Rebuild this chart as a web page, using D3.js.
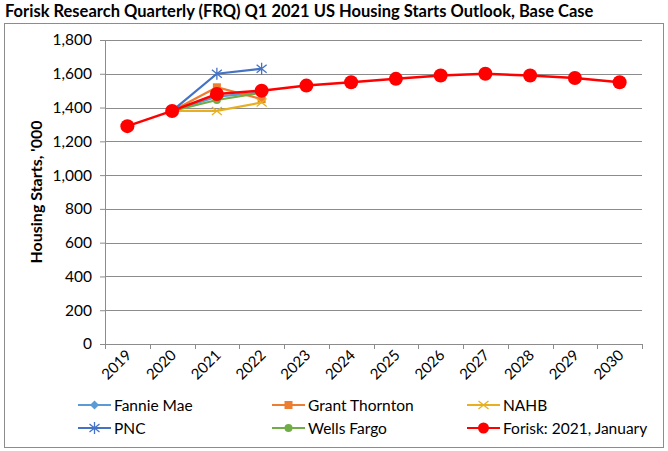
<!DOCTYPE html>
<html>
<head>
<meta charset="utf-8">
<script src="https://cdn.jsdelivr.net/npm/d3@7"></script>
<style>
  body { margin: 0; background: #fff; }
  svg text { font-family: Lato, "Open Sans", sans-serif; }
</style>
</head>
<body>
<div id="chart"></div>
<script>
// categories and values
const years = ['2019', '2020', '2021', '2022', '2023', '2024', '2025', '2026', '2027', '2028', '2029', '2030'];
const yTicks = [0, 200, 400, 600, 800, 1000, 1200, 1400, 1600, 1800];

const fannieMae = [null, 1380, 1465, 1490];
const grantThornton = [null, 1380, 1520, 1450];
const nahb = [null, 1380, 1380, 1430];
const pnc = [null, 1380, 1600, 1630];
const wellsFargo = [null, 1380, 1445, 1488];
const forisk = [1290, 1380, 1480, 1500, 1530, 1550, 1570, 1590, 1600, 1590, 1575, 1550];

const series = [
    { name: 'Fannie Mae', values: fannieMae, color: '#5B9BD5', marker: 'diamond' },
    { name: 'Grant Thornton', values: grantThornton, color: '#ED7D31', marker: 'square' },
    { name: 'NAHB', values: nahb, color: '#E8B020', marker: 'x' },
    { name: 'PNC', values: pnc, color: '#4472C4', marker: 'star' },
    { name: 'Wells Fargo', values: wellsFargo, color: '#70AD47', marker: 'circle' },
    { name: 'Forisk: 2021, January', values: forisk, color: '#FF0000', marker: 'big' }
];

const W = 668, H = 451;
const margin = { top: 40, right: 26, bottom: 107, left: 105 };
const width = W - margin.left - margin.right,
      height = H - margin.top - margin.bottom;

const svg = d3.select('#chart').append('svg')
    .attr('width', W)
    .attr('height', H);

// chart frame
svg.append('rect')
    .attr('x', 4.5).attr('y', 23.5)
    .attr('width', 659).attr('height', 424)
    .attr('fill', 'none')
    .attr('stroke', '#8c8c8c');

svg.append('text')
    .attr('x', 5).attr('y', 17)
    .style('font-weight', 'bold')
    .style('font-size', '16.5px')
    .text('Forisk Research Quarterly (FRQ) Q1 2021 US Housing Starts Outlook, Base Case');

const g = svg.append('g')
    .attr('transform', `translate(${margin.left},${margin.top})`);

const x = d3.scaleBand().domain(years).range([0, width]);
const y = d3.scaleLinear().domain([0, 1800]).range([height, 0]);

// gridlines
g.append('g')
    .selectAll('line')
    .data(yTicks.filter(d => d > 0))
    .enter().append('line')
    .attr('x1', 0).attr('x2', width)
    .attr('y1', d => Math.round(y(d)) + 0.5).attr('y2', d => Math.round(y(d)) + 0.5)
    .attr('stroke', '#8c8c8c');

// y axis
const yAxis = g.append('g')
    .call(d3.axisLeft(y).tickValues(yTicks).tickSize(5).tickPadding(8).tickFormat(d3.format(',')));
yAxis.selectAll('text').style('font-size', '15.5px').attr('fill', '#000');
yAxis.selectAll('line, path').attr('stroke', '#8c8c8c');

// x axis
const xAxis = g.append('g')
    .attr('transform', `translate(0,${height})`)
    .call(d3.axisBottom(x).tickSize(0).tickPadding(0));
xAxis.select('.domain').attr('stroke', '#8c8c8c');
xAxis.selectAll('text')
    .style('font-size', '15px')
    .attr('fill', '#000')
    .attr('text-anchor', 'end')
    .attr('dy', 0)
    .attr('transform', 'translate(5,12) rotate(-45)');
// tick marks on band boundaries
g.append('g')
    .selectAll('line')
    .data(years.concat(['end']))
    .enter().append('line')
    .attr('x1', (d, i) => Math.round(i * x.step()) + 0.5)
    .attr('x2', (d, i) => Math.round(i * x.step()) + 0.5)
    .attr('y1', height).attr('y2', height + 5)
    .attr('stroke', '#8c8c8c');

svg.append('text')
    .attr('transform', `translate(42,${margin.top + height / 2}) rotate(-90)`)
    .attr('text-anchor', 'middle')
    .style('font-weight', 'bold')
    .style('font-size', '16px')
    .text("Housing Starts, '000");

function drawMarker(sel, type, color) {
    if (type === 'diamond') {
        sel.append('path').attr('d', 'M0,-4.5L4.5,0L0,4.5L-4.5,0Z').attr('fill', color);
    } else if (type === 'square') {
        sel.append('rect').attr('x', -4).attr('y', -4).attr('width', 8).attr('height', 8).attr('fill', color);
    } else if (type === 'x') {
        sel.append('path').attr('d', 'M-5,-4L5,4M-5,4L5,-4').attr('stroke', color).attr('stroke-width', 1.3).attr('fill', 'none');
    } else if (type === 'star') {
        sel.append('path').attr('d', 'M-5,-4L5,4M-5,4L5,-4M0,-6L0,6').attr('stroke', color).attr('stroke-width', 1.3).attr('fill', 'none');
    } else if (type === 'circle') {
        sel.append('circle').attr('r', 4).attr('fill', color);
    } else {
        sel.append('circle').attr('r', 7).attr('fill', color);
    }
}

const line = d3.line()
    .defined(d => d != null)
    .x((d, i) => x(years[i]) + x.bandwidth() / 2)
    .y(d => y(d));

series.forEach(s => {
    const pts = s.values.map((v, i) => ({ v, i })).filter(p => p.v != null);
    const lg = g.append('g');
    lg.append('path')
        .datum(s.values)
        .attr('d', line)
        .attr('fill', 'none')
        .attr('stroke', s.color)
        .attr('stroke-width', s.marker === 'big' ? 2.5 : 2.2);
    pts.forEach(p => {
        const m = lg.append('g')
            .attr('transform', `translate(${x(years[p.i]) + x.bandwidth() / 2},${y(p.v)})`);
        drawMarker(m, s.marker, s.color);
    });
});

// legend
const legendPos = [[78, 405], [272, 405], [467, 405], [78, 428], [272, 428], [467, 428]];
series.forEach((s, i) => {
    const lg = svg.append('g').attr('transform', `translate(${legendPos[i][0]},${legendPos[i][1]})`);
    lg.append('line').attr('x1', 0).attr('x2', 33).attr('y1', 0).attr('y2', 0)
        .attr('stroke', s.color).attr('stroke-width', 2.2);
    const m = lg.append('g').attr('transform', 'translate(16.5,0)');
    drawMarker(m, s.marker, s.color);
    if (s.marker === 'big') m.select('circle').attr('r', 5.5);
    lg.append('text').attr('x', 36).attr('y', 5.5).style('font-size', '15.5px').text(s.name);
});
</script>
</body>
</html>
